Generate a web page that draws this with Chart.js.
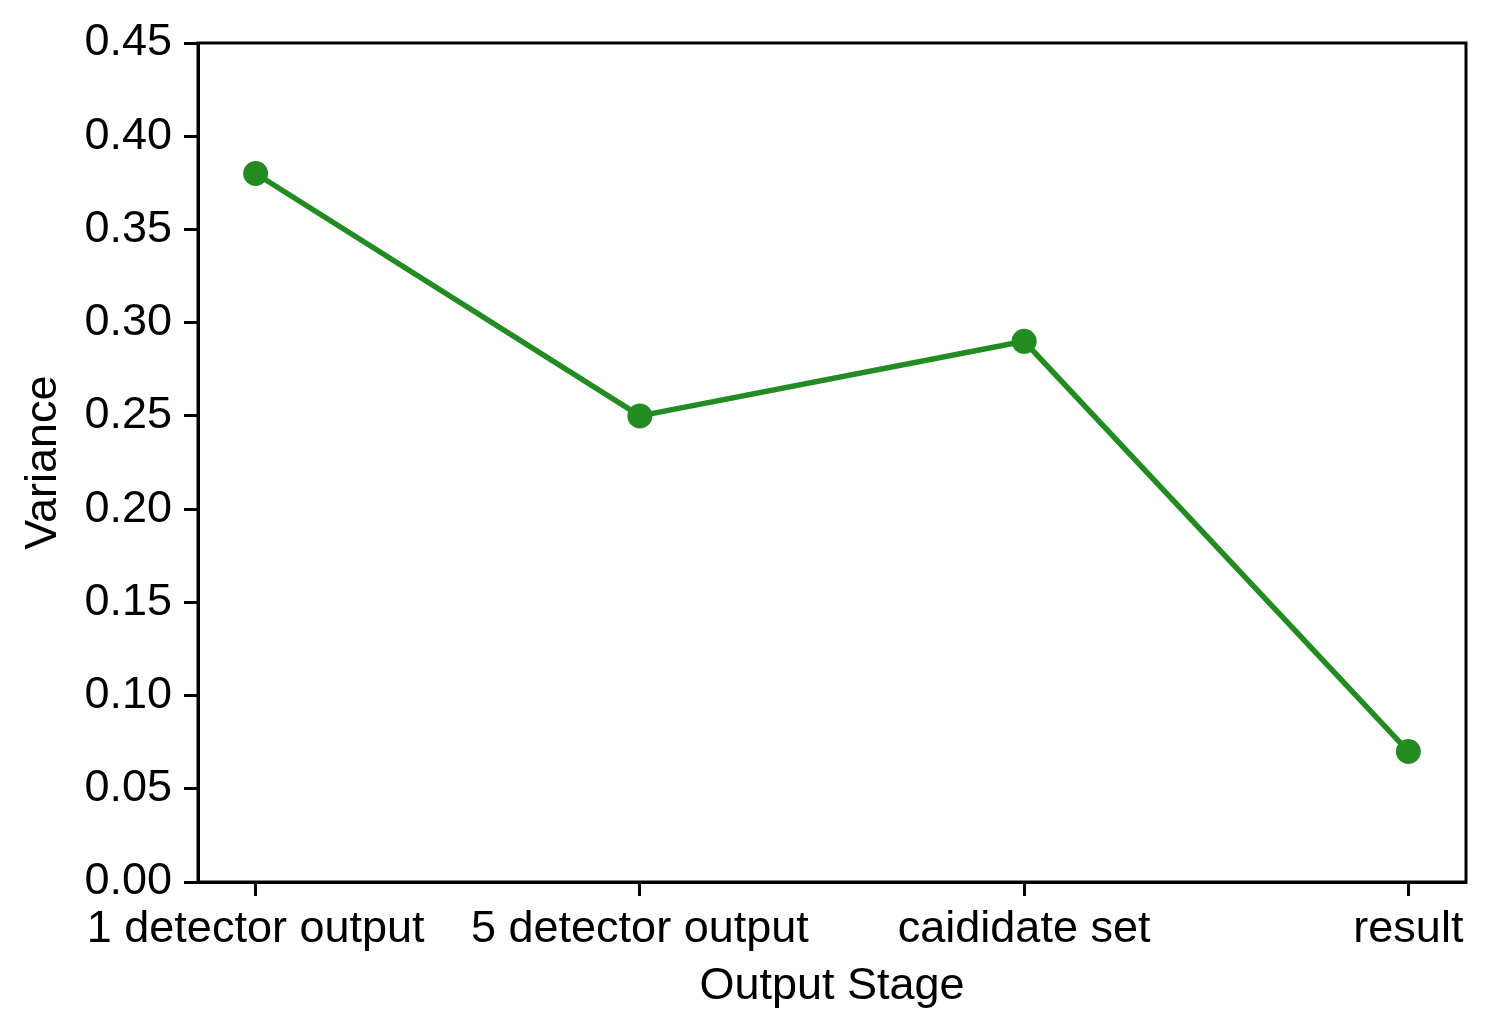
<!DOCTYPE html>
<html>
<head>
<meta charset="utf-8">
<script src="https://cdn.jsdelivr.net/npm/chart.js@4/dist/chart.umd.min.js"></script>
<style>
  html, body { margin: 0; padding: 0; background: #fff; }
  #wrap { width: 1493px; height: 1036px; }
</style>
</head>
<body>
<div id="wrap"><canvas id="myChart" width="1493" height="1036"></canvas></div>
<script>
// chart values
stages = ["1 detector output", "5 detector output", "caididate set", "result"];
variance = [0.38, 0.25, 0.29, 0.07];
yTicks = [0, 0.05, 0.1, 0.15, 0.2, 0.25, 0.3, 0.35, 0.4, 0.45];

points = [];
for (i = 0; i < stages.length; i++) {
  points.push({ x: i, y: variance[i] });
}

fontFamily = "'Liberation Sans', Arial, Helvetica, sans-serif";

// matplotlib-style full box round the plot
boxPlugin = {
  id: "box",
  afterDraw: function (chart) {
    let a = chart.chartArea;
    let ctx = chart.ctx;
    ctx.save();
    ctx.strokeStyle = "#000";
    ctx.lineWidth = 3;
    ctx.strokeRect(a.left, a.top, a.right - a.left, a.bottom - a.top);
    ctx.restore();
  },
};

config = {
  type: "line",
  data: {
    datasets: [
      {
        data: points,
        borderColor: "#228B22",
        backgroundColor: "#228B22",
        pointBackgroundColor: "#228B22",
        pointBorderColor: "#228B22",
        borderWidth: 5.5,
        pointRadius: 12.5,
        pointBorderWidth: 0,
        fill: false,
        tension: 0,
      },
    ],
  },
  options: {
    responsive: false,
    animation: false,
    devicePixelRatio: 1,
    layout: { padding: { left: 0, top: 43, right: 27, bottom: 0 } },
    plugins: {
      legend: { display: false },
      tooltip: { enabled: false },
    },
    scales: {
      x: {
        type: "linear",
        min: -0.15,
        max: 3.15,
        afterBuildTicks: function (scale) {
          scale.ticks = stages.map(function (s, i) { return { value: i }; });
        },
        afterFit: function (scale) {
          scale.height = 154;
        },
        ticks: {
          color: "#000",
          font: { family: fontFamily, size: 45 },
          padding: 7,
          maxRotation: 0,
          autoSkip: false,
          callback: function (v) { return stages[v]; },
        },
        grid: {
          drawOnChartArea: false,
          drawTicks: true,
          tickLength: 14,
          tickWidth: 3,
          tickColor: "#000",
        },
        border: { color: "#000", width: 3 },
        title: {
          display: true,
          text: "Output Stage",
          color: "#000",
          font: { family: fontFamily, size: 45, lineHeight: 1.2 },
          padding: { top: 0, bottom: 22 },
        },
      },
      y: {
        min: 0,
        max: 0.45,
        afterBuildTicks: function (scale) {
          scale.ticks = yTicks.map(function (v) { return { value: v }; });
        },
        afterFit: function (scale) {
          scale.width = 198;
        },
        ticks: {
          color: "#000",
          font: { family: fontFamily, size: 45 },
          padding: 12,
          callback: function (v) { return v.toFixed(2); },
        },
        grid: {
          drawOnChartArea: false,
          drawTicks: true,
          tickLength: 14,
          tickWidth: 3,
          tickColor: "#000",
        },
        border: { color: "#000", width: 3 },
        title: {
          display: true,
          text: "Variance",
          color: "#000",
          font: { family: fontFamily, size: 45, lineHeight: 1.2 },
          padding: { top: 17, bottom: 0 },
        },
      },
    },
  },
  plugins: [boxPlugin],
};

myChart = new Chart(document.getElementById("myChart"), config);
</script>
</body>
</html>
